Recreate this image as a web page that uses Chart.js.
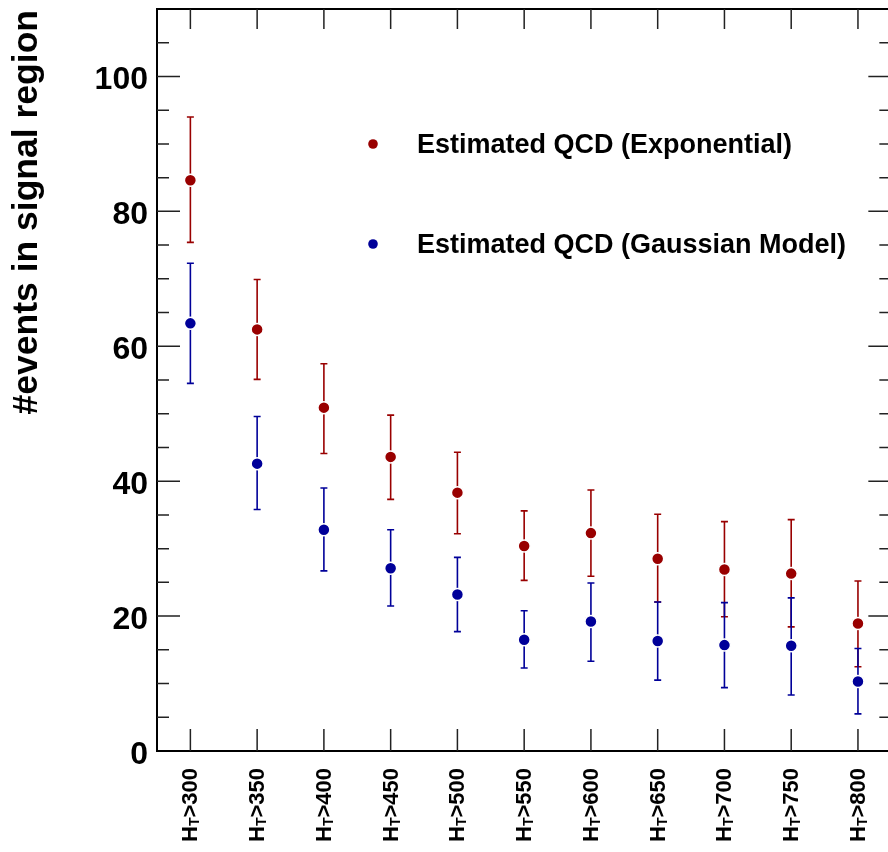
<!DOCTYPE html>
<html>
<head>
<meta charset="utf-8">
<title>Estimated QCD vs HT cut</title>
<script src="https://cdn.jsdelivr.net/npm/chart.js@4.4.1/dist/chart.umd.min.js"></script>
<style>
  html, body { margin: 0; padding: 0; background: #fff; overflow: hidden; }
  #cont { width: 888px; height: 852px; }
</style>
</head>
<body>
<div id="cont"><canvas id="grafica" width="888" height="852"></canvas></div>
<script>
/* =============================================================================
 * QCD estimate in the signal region, per H_T cut
 * Two series (exponential / gaussian model) with asymmetric error bars.
 * ========================================================================== */

// --- Data ---------------------------------------------------------------------
const CORTES_HT = ['300', '350', '400', '450', '500', '550', '600', '650', '700', '750', '800'];

const EXP_VALOR = [84.6, 62.5, 50.9, 43.6, 38.3, 30.4, 32.3, 28.5, 26.9, 26.3, 18.9];
const EXP_ALTO  = [94.0, 69.9, 57.4, 49.8, 44.3, 35.6, 38.7, 35.1, 34.0, 34.3, 25.2];
const EXP_BAJO  = [75.4, 55.1, 44.1, 37.3, 32.2, 25.3, 25.9, 22.1, 19.9, 18.4, 12.5];

const GAU_VALOR = [63.4, 42.6, 32.8, 27.1, 23.2, 16.5, 19.2, 16.3, 15.7, 15.6, 10.3];
const GAU_ALTO  = [72.3, 49.6, 39.0, 32.8, 28.7, 20.8, 24.9, 22.1, 22.0, 22.7, 15.2];
const GAU_BAJO  = [54.5, 35.8, 26.7, 21.5, 17.7, 12.3, 13.3, 10.5, 9.4, 8.3, 5.5];

const SERIES = ['Estimated QCD (Exponential)', 'Estimated QCD (Gaussian Model)'];
const Y_MAYORES = [0, 20, 40, 60, 80, 100];
const Y_PASO_MENOR = 5;
const Y_MAX = 110;
// the frame ends at N - 0.5, a few pixels past the right edge of the picture
const X_VISIBLE_MAX = 10.45;

// --- Style --------------------------------------------------------------------
const ROJO = '#990000';
const AZUL = '#000099';
const FUENTE = '"Liberation Sans", Arial, Helvetica, sans-serif';

const puntos = (valores) => valores.map((v, i) => ({ x: i, y: v }));

/* --- Error bars: vertical line + small caps, drawn under the markers ------- */
const barrasError = {
  id: 'barrasError',
  beforeDatasetsDraw(chart) {
    const { ctx, scales: { x, y } } = chart;
    const grupos = [
      { alto: EXP_ALTO, bajo: EXP_BAJO, color: ROJO },
      { alto: GAU_ALTO, bajo: GAU_BAJO, color: AZUL },
    ];
    ctx.save();
    ctx.lineWidth = 1.6;
    grupos.forEach(g => {
      ctx.strokeStyle = g.color;
      CORTES_HT.forEach((_, i) => {
        const px = x.getPixelForValue(i);
        const pa = y.getPixelForValue(g.alto[i]);
        const pb = y.getPixelForValue(g.bajo[i]);
        ctx.beginPath();
        ctx.moveTo(px, pa); ctx.lineTo(px, pb);
        ctx.moveTo(px - 3.5, pa); ctx.lineTo(px + 3.5, pa);
        ctx.moveTo(px - 3.5, pb); ctx.lineTo(px + 3.5, pb);
        ctx.stroke();
      });
    });
    ctx.restore();
  },
};

/* --- Frame with inward ticks (ROOT look) ----------------------------------- */
const marco = {
  id: 'marco',
  beforeDatasetsDraw(chart) {
    const { ctx, chartArea: a, scales: { x, y } } = chart;
    const derecha = x.getPixelForValue(CORTES_HT.length - 0.5);
    ctx.save();
    ctx.strokeStyle = '#000';
    ctx.lineWidth = 2;
    ctx.strokeRect(a.left, a.top, derecha - a.left, a.bottom - a.top);

    ctx.lineWidth = 1.5;
    ctx.strokeStyle = '#222';
    ctx.beginPath();
    for (let v = Y_PASO_MENOR; v < Y_MAX; v += Y_PASO_MENOR) {
      const py = y.getPixelForValue(v);
      const largo = Y_MAYORES.includes(v) ? 23 : 12;
      ctx.moveTo(a.left, py); ctx.lineTo(a.left + largo, py);
      ctx.moveTo(derecha, py); ctx.lineTo(derecha - largo, py);
    }
    CORTES_HT.forEach((_, i) => {
      const px = x.getPixelForValue(i);
      ctx.moveTo(px, a.bottom); ctx.lineTo(px, a.bottom - 22);
      ctx.moveTo(px, a.top); ctx.lineTo(px, a.top + 20);
    });
    ctx.stroke();
    ctx.restore();
  },
};

/* --- Texts: tick labels, axis title, legend -------------------------------- */
const textos = {
  id: 'textos',
  afterDraw(chart) {
    const { ctx, chartArea: a, scales: { x, y } } = chart;
    ctx.save();
    ctx.fillStyle = '#000';

    // y tick labels
    ctx.font = `bold 32px ${FUENTE}`;
    ctx.textAlign = 'right';
    ctx.textBaseline = 'alphabetic';
    Y_MAYORES.forEach(v => ctx.fillText(String(v), a.left - 9, y.getPixelForValue(v) + 12.5));

    // x tick labels: "H_T>nnn", rotated, subscript T
    const grande = `bold 22px ${FUENTE}`;
    const chica = `bold 14px ${FUENTE}`;
    CORTES_HT.forEach((corte, i) => {
      const px = x.getPixelForValue(i);
      const resto = '>' + corte;
      ctx.font = grande;
      const wH = ctx.measureText('H').width;
      const wR = ctx.measureText(resto).width;
      ctx.font = chica;
      const wT = ctx.measureText('T').width;
      ctx.save();
      ctx.translate(px + 7, a.bottom + 17);
      ctx.rotate(-Math.PI / 2);
      ctx.textAlign = 'left';
      let cx = -(wH + wT + wR);
      ctx.font = grande; ctx.fillText('H', cx, 0); cx += wH;
      ctx.font = chica;  ctx.fillText('T', cx, 2); cx += wT;
      ctx.font = grande; ctx.fillText(resto, cx, 0);
      ctx.restore();
    });

    // y axis title, aligned to the top end of the axis
    ctx.save();
    ctx.translate(37, 10);
    ctx.rotate(-Math.PI / 2);
    ctx.font = `bold 35.5px ${FUENTE}`;
    ctx.textAlign = 'right';
    ctx.fillText('#events in signal region', 0, 0);
    ctx.restore();

    // legend
    const filas = [
      { texto: SERIES[0], color: ROJO, dy: 135 },
      { texto: SERIES[1], color: AZUL, dy: 235 },
    ];
    ctx.font = `bold 27px ${FUENTE}`;
    ctx.textAlign = 'left';
    filas.forEach(f => {
      const mx = a.left + 216, my = a.top + f.dy;
      ctx.fillStyle = f.color;
      ctx.beginPath(); ctx.arc(mx, my, 4.8, 0, Math.PI * 2); ctx.fill();
      ctx.fillStyle = '#000';
      ctx.fillText(f.texto, mx + 44, my + 9);
    });
    ctx.restore();
  },
};

/* --- Chart ----------------------------------------------------------------- */
const serie = (etiqueta, valores, color) => ({
  label: etiqueta,
  data: puntos(valores),
  pointRadius: 6,
  pointHoverRadius: 6,
  pointBackgroundColor: color,
  pointBorderColor: '#fff',
  pointBorderWidth: 1.5,
  showLine: false,
});

new Chart(document.getElementById('grafica'), {
  type: 'scatter',
  data: {
    datasets: [
      serie(SERIES[0], EXP_VALOR, ROJO),
      serie(SERIES[1], GAU_VALOR, AZUL),
    ],
  },
  options: {
    responsive: false,
    animation: false,
    devicePixelRatio: 1,
    // no automatic padding: the plot frame must run up to the canvas edge
    layout: { autoPadding: false, padding: { left: 157, top: 9, right: 0, bottom: 101 } },
    scales: {
      x: { type: 'linear', min: -0.5, max: X_VISIBLE_MAX, display: false },
      y: { min: 0, max: Y_MAX, display: false },
    },
    plugins: { legend: { display: false }, tooltip: { enabled: false } },
  },
  plugins: [marco, barrasError, textos],
});
</script>
</body>
</html>
